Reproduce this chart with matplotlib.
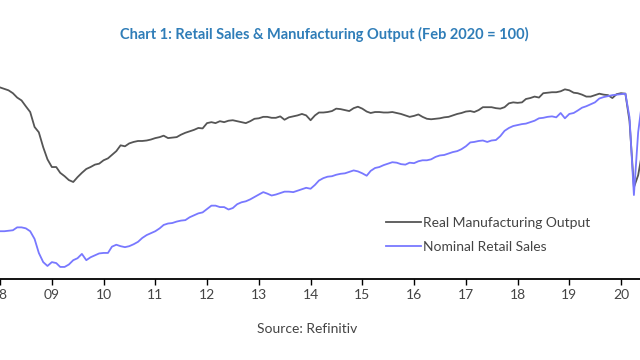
import numpy as np
import pandas as pd
import matplotlib
matplotlib.use("Agg")
import matplotlib.pyplot as plt
import matplotlib.dates as mdates

plt.rcParams['font.family'] = ['Lato', 'DejaVu Sans']

# monthly index, Feb 2020 = 100 (Jan 2008 .. Jun 2020)
months = pd.date_range("2008-01-01", "2020-06-01", freq="MS")

manufacturing = [
    101.3, 101.0, 100.7, 100.1, 99.2, 98.6, 97.4, 96.2, 93.1, 92.0, 88.9, 86.4,
    84.8, 84.8, 83.6, 82.9, 82.1, 81.7, 82.7, 83.6, 84.4, 84.8, 85.3, 85.5,
    86.2, 86.6, 87.3, 88.1, 89.3, 89.1, 89.7, 90.0, 90.2, 90.2, 90.3, 90.5,
    90.8, 91.0, 91.3, 90.8, 90.9, 91.0, 91.5, 91.9, 92.2, 92.5, 92.9, 92.8,
    93.9, 94.1, 93.9, 94.3, 94.1, 94.4, 94.5, 94.3, 94.1, 93.9, 94.3, 94.8,
    94.9, 95.2, 95.2, 95.0, 95.0, 95.3, 94.6, 95.1, 95.3, 95.5, 95.8, 95.5,
    94.5, 95.5, 96.1, 96.1, 96.2, 96.4, 96.9, 96.8, 96.6, 96.4, 97.0, 97.3,
    96.9, 96.3, 96.0, 96.2, 96.2, 96.1, 96.1, 96.2, 96.0, 95.8, 95.5, 95.2,
    95.4, 95.7, 95.2, 94.8, 94.7, 94.8, 94.9, 95.1, 95.2, 95.5, 95.8, 96.0,
    96.3, 96.4, 96.2, 96.6, 97.2, 97.2, 97.2, 97.0, 96.9, 97.2, 98.0, 98.2,
    98.1, 98.2, 98.9, 99.1, 99.4, 99.2, 100.1, 100.2, 100.3, 100.3, 100.5, 100.9,
    100.7, 100.2, 100.1, 99.8, 99.4, 99.4, 99.7, 100.0, 99.8, 99.7, 99.1, 99.9,
    100.1, 100.0, 94.3, 80.6, 83.1, 88.3,
]

retail = [
    71.5, 71.5, 71.6, 71.7, 72.3, 72.3, 72.1, 71.5, 69.9, 67.0, 65.1, 64.3,
    65.1, 64.9, 64.1, 64.1, 64.6, 65.5, 65.9, 66.8, 65.5, 66.1, 66.5, 66.9,
    67.0, 67.0, 68.3, 68.7, 68.4, 68.2, 68.4, 68.8, 69.3, 70.1, 70.7, 71.1,
    71.5, 72.1, 72.8, 73.1, 73.2, 73.5, 73.7, 73.8, 74.4, 74.8, 75.2, 75.4,
    76.1, 76.8, 76.8, 76.5, 76.5, 76.0, 76.3, 77.1, 77.5, 77.7, 78.1, 78.6,
    79.1, 79.6, 79.3, 78.9, 79.1, 79.4, 79.7, 79.7, 79.6, 79.9, 80.2, 80.5,
    80.3, 81.1, 82.0, 82.5, 82.8, 82.9, 83.2, 83.4, 83.5, 83.8, 84.1, 83.9,
    83.5, 83.0, 84.0, 84.6, 84.8, 85.2, 85.5, 85.8, 85.7, 85.4, 85.3, 85.7,
    85.6, 86.0, 86.2, 86.2, 86.4, 86.9, 87.2, 87.3, 87.6, 87.9, 88.1, 88.5,
    89.1, 89.9, 90.0, 90.2, 90.3, 90.0, 90.3, 90.4, 91.2, 92.3, 92.9, 93.3,
    93.5, 93.7, 93.8, 94.1, 94.4, 94.9, 95.0, 95.2, 95.3, 95.1, 96.0, 94.9,
    95.8, 96.0, 96.5, 97.1, 97.4, 97.8, 98.2, 99.0, 99.3, 99.5, 99.7, 99.8,
    99.9, 100.0, 95.1, 79.0, 92.0, 99.1,
]

tick_years = list(range(2008, 2021))
tick_labels = [str(y)[2:] for y in tick_years]

fig = plt.figure(figsize=(6.4, 3.6), dpi=100)
ax = fig.add_axes([0.0, 0.225, 1.0, 0.622])

ax.plot(months, manufacturing, color="#555555", lw=1.3, label="Real Manufacturing Output")
ax.plot(months, retail, color="#7878ff", lw=1.3, label="Nominal Retail Sales")

ax.set_xlim(pd.Timestamp("2008-02-14"), pd.Timestamp("2020-05-14"))
ax.set_ylim(61.6, 108.0)

ax.set_xticks([pd.Timestamp(f"{y}-01-01") for y in tick_years])
ax.set_xticklabels(tick_labels)
ax.tick_params(axis="x", direction="out", length=4, width=1, colors="black",
               labelsize=10, labelcolor="#444444", pad=3)
ax.set_yticks([])
for side in ["left", "right", "top"]:
    ax.spines[side].set_visible(False)
ax.spines["bottom"].set_linewidth(1.3)

ax.legend(loc="center left", bbox_to_anchor=(0.603, 0.347), bbox_transform=fig.transFigure,
          frameon=False, fontsize=10, handlelength=2.5, handletextpad=0.2,
          labelspacing=0.85, borderpad=0, borderaxespad=0, labelcolor="#444444")

fig.text(0.506, 0.903, "Chart 1: Retail Sales & Manufacturing Output (Feb 2020 = 100)",
         ha="center", va="center", fontsize=10.5, fontweight="bold", color="#2f7db8")
fig.text(0.48, 0.086, "Source: Refinitiv", ha="center", va="center",
         fontsize=10, color="#444444")

fig.savefig("out.png", dpi=100)
